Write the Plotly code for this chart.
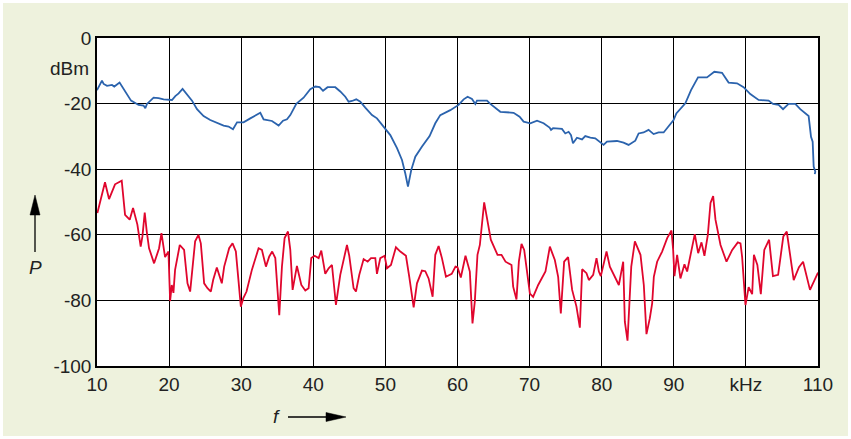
import plotly.graph_objects as go

# Blue curve (upper trace)
blue_f = [10.0, 10.69, 10.92, 11.39, 12.08, 12.40, 13.13, 13.93, 14.72, 15.77, 16.46, 16.70, 16.93,
          17.85, 18.54, 19.24, 20.40, 20.86, 21.32, 21.87, 22.48, 23.18, 23.87, 24.78, 25.71, 26.64,
          27.56, 28.25, 28.86, 29.42, 30.33, 31.26, 32.65, 33.11, 34.27, 35.19, 35.80, 36.35, 36.81,
          37.64, 38.65, 39.58, 40.28, 40.87, 41.35, 41.98, 43.05, 43.74, 44.44, 44.90, 45.37, 45.96,
          46.52, 47.21, 48.14, 48.83, 49.99, 50.68, 51.61, 52.30, 52.76, 53.13, 53.59, 54.15, 55.08,
          56.13, 56.92, 57.61, 59.00, 60.15, 60.85, 61.40, 62.01, 62.47, 62.70, 64.09, 64.55, 65.94,
          67.78, 68.61, 69.17, 70.10, 71.03, 71.94, 72.77, 72.97, 73.25, 74.49, 74.95, 75.41, 75.74,
          76.02, 76.57, 77.27, 77.72, 78.42, 79.11, 79.57, 80.26, 80.73, 82.12, 83.03, 83.73, 84.66,
          85.12, 85.81, 86.50, 87.20, 87.89, 88.59, 89.20, 89.97, 90.35, 91.60, 92.39, 93.36, 94.60,
          95.62, 96.69, 97.60, 98.77, 99.68, 100.61, 101.76, 103.15, 103.76, 104.54, 105.15, 105.92,
          106.85, 107.54, 108.70, 109.03, 109.26, 109.40, 109.63, 109.55]
blue_p = [-15.9, -13.0, -14.0, -14.6, -14.3, -14.8, -13.6, -16.4, -19.1, -20.4, -20.6, -21.4, -20.1,
          -18.2, -18.3, -18.7, -18.9, -17.7, -16.9, -15.5, -17.2, -19.1, -21.7, -23.8, -25.0, -25.8,
          -26.7, -27.0, -27.8, -25.7, -25.7, -24.5, -22.8, -24.8, -25.3, -26.7, -25.2, -24.8, -23.5,
          -20.1, -18.2, -15.6, -14.8, -15.0, -16.1, -15.0, -15.0, -16.3, -17.9, -19.4, -19.2, -18.7,
          -19.4, -21.2, -23.5, -24.5, -27.5, -29.6, -33.6, -37.2, -41.3, -45.3, -40.2, -36.2, -33.1,
          -29.9, -26.0, -23.5, -22.0, -20.4, -18.7, -17.9, -18.6, -20.1, -19.1, -19.1, -20.1, -22.5,
          -22.8, -24.0, -25.5, -26.0, -25.2, -26.0, -27.3, -28.0, -27.5, -27.7, -29.1, -28.6, -29.6,
          -32.1, -30.4, -30.9, -29.9, -30.4, -30.6, -31.3, -32.6, -31.6, -31.4, -31.9, -32.6, -31.3,
          -29.1, -28.8, -28.0, -29.3, -28.8, -28.8, -27.0, -25.0, -23.0, -19.9, -15.9, -12.0, -12.0,
          -10.3, -10.6, -13.6, -13.8, -15.0, -17.1, -18.9, -19.1, -20.1, -20.4, -21.7, -20.1,
          -20.1, -21.7, -23.8, -30.1, -31.6, -39.2, -40.8, -41.5]

# Red curve (lower trace)
red_f = [10.05, 10.37, 11.11, 11.67, 12.50, 13.43, 13.89, 14.54, 15.00, 15.60, 16.06, 16.30, 16.62,
         16.90, 17.22, 17.92, 18.61, 18.94, 19.44, 19.91, 20.14, 20.37, 20.60, 20.83, 21.48, 22.08,
         22.55, 22.92, 23.33, 23.61, 24.07, 24.40, 24.86, 25.32, 25.79, 26.11, 26.62, 27.31, 27.64,
         28.33, 28.80, 29.26, 29.95, 30.28, 30.74, 31.48, 32.41, 32.87, 33.43, 33.89, 34.30, 34.73,
         35.28, 35.65, 36.02, 36.49, 36.81, 37.13, 37.73, 38.34, 38.89, 39.35, 39.72, 40.18, 40.74,
         41.11, 41.66, 42.13, 42.59, 43.14, 43.74, 44.21, 44.67, 44.99, 45.59, 45.92, 46.38, 46.98,
         47.54, 48.00, 48.60, 48.83, 49.29, 49.89, 50.22, 50.77, 51.46, 52.07, 52.85, 53.31, 53.92,
         54.38, 55.07, 55.53, 55.99, 56.55, 56.92, 57.38, 57.84, 58.40, 59.20, 59.72, 60.00, 60.46,
         61.11, 61.71, 62.08, 62.40, 62.77, 63.10, 63.33, 63.70, 64.25, 64.62, 65.55, 66.10, 66.66,
         67.49, 67.72, 68.18, 68.51, 68.88, 69.25, 69.57, 70.04, 70.49, 71.19, 72.20, 72.81, 73.50,
         73.96, 74.33, 74.79, 75.34, 75.90, 76.50, 76.97, 77.29, 77.89, 78.22, 78.82, 79.28, 79.61,
         79.88, 80.67, 81.13, 82.38, 82.98, 83.21, 83.58, 84.10, 84.60, 85.38, 85.84, 86.21, 86.67,
         87.00, 87.23, 87.69, 88.38, 89.08, 89.68, 89.91, 90.09, 90.46, 90.92, 91.48, 91.85, 92.54,
         92.91, 93.38, 93.84, 94.25, 94.72, 95.09, 95.46, 95.78, 96.48, 97.31, 98.10, 98.88, 99.25,
         99.48, 99.94, 100.38, 100.87, 101.11, 101.59, 102.07, 102.55, 103.22, 103.75, 104.47,
         105.19, 105.67, 106.01, 106.63, 107.36, 107.93, 108.89, 110.0]
red_p = [-53.4, -50.3, -44.0, -49.1, -44.6, -43.5, -53.9, -55.4, -51.8, -56.9, -63.6, -60.5, -53.2,
         -59.0, -64.1, -68.7, -64.1, -59.5, -66.8, -65.1, -80.2, -75.3, -77.7, -70.7, -63.1, -64.6,
         -74.8, -77.3, -67.1, -62.0, -60.0, -62.6, -74.8, -76.3, -77.3, -73.8, -70.0, -74.8, -69.7,
         -64.1, -62.6, -65.1, -81.9, -79.4, -77.3, -70.7, -64.1, -64.6, -69.7, -66.6, -65.1, -67.1,
         -84.5, -69.7, -61.0, -59.0, -64.6, -76.8, -69.5, -75.3, -77.0, -76.3, -67.1, -66.4, -67.1,
         -64.8, -71.9, -70.2, -69.2, -81.4, -72.2, -67.9, -63.1, -66.4, -76.3, -77.3, -72.2, -67.4,
         -68.2, -67.1, -67.1, -71.9, -67.1, -66.4, -70.2, -69.2, -63.8, -65.1, -66.4, -72.8, -82.1,
         -74.8, -70.9, -71.1, -73.3, -78.9, -66.1, -63.4, -67.1, -72.8, -71.9, -69.7, -69.9, -73.0,
         -66.4, -71.2, -87.0, -80.4, -66.1, -63.1, -57.4, -50.1, -56.9, -61.5, -66.1, -66.1, -68.2,
         -69.2, -75.8, -79.7, -68.2, -62.8, -64.6, -69.7, -77.9, -78.9, -75.3, -71.2, -63.6, -67.7,
         -72.8, -84.0, -68.2, -66.8, -76.8, -81.9, -88.3, -70.5, -71.7, -73.8, -72.2, -67.1, -71.2,
         -72.6, -65.1, -69.7, -75.3, -68.2, -86.5, -92.3, -69.7, -62.0, -66.1, -75.3, -90.3, -85.5,
         -80.9, -72.8, -68.2, -65.1, -61.0, -58.7, -64.6, -72.6, -66.1, -73.3, -69.0, -71.2, -63.1,
         -59.8, -65.6, -62.3, -66.4, -60.0, -50.3, -48.2, -55.4, -63.1, -68.2, -64.6, -62.3, -62.6,
         -66.8, -81.4, -76.0, -78.1, -66.1, -69.2, -78.1, -64.6, -61.5, -72.6, -72.2,
         -60.5, -59.0, -64.1, -73.8, -69.9, -68.2, -76.8, -71.5]

x_tickvals = [10, 20, 30, 40, 50, 60, 70, 80, 90, 100, 110]
x_ticktext = ["10", "20", "30", "40", "50", "60", "70", "80", "90", "kHz", "110"]
y_tickvals = [0, -20, -40, -60, -80, -100]
y_ticktext = ["0", "-20", "-40", "-60", "-80", "-100"]

FONT = "Liberation Sans, Arial, Helvetica, sans-serif"
BG = "#eef2dd"
TXT = "#222222"

W, H = 851, 439
ML, MR, MT, MB = 97, 33, 38, 73
PW, PH = W - ML - MR, H - MT - MB


def px(x):  # page pixel -> paper x
    return (x - ML) / PW


def py(y):  # page pixel -> paper y
    return (H - MB - y) / PH


fig = go.Figure()
fig.add_trace(go.Scatter(x=blue_f, y=blue_p, mode="lines",
                         line=dict(color="#2b63ad", width=1.8), showlegend=False))
fig.add_trace(go.Scatter(x=red_f, y=red_p, mode="lines",
                         line=dict(color="#e0062d", width=1.8), showlegend=False))

arrow_style = dict(type="path", xref="paper", yref="paper",
                   xsizemode="pixel", ysizemode="pixel", layer="above")
shapes = [
    # white frame around the figure
    dict(type="rect", xref="paper", yref="paper", x0=px(0), x1=px(W), y0=py(H), y1=py(0),
         line=dict(color="white", width=6), fillcolor="rgba(0,0,0,0)", layer="above"),
    # P arrow (upwards)
    dict(**arrow_style, xanchor=px(35), yanchor=py(195), path="M0,0 L-5,-20 L5,-20 Z",
         fillcolor="black", line=dict(color="black", width=0.5)),
    dict(**arrow_style, xanchor=px(35), yanchor=py(195), path="M0,-18 L0,-57",
         line=dict(color="black", width=1.3)),
    # f arrow (rightwards)
    dict(**arrow_style, xanchor=px(346), yanchor=py(417), path="M0,0 L-20,4.5 L-20,-4.5 Z",
         fillcolor="black", line=dict(color="black", width=0.5)),
    dict(**arrow_style, xanchor=px(346), yanchor=py(417), path="M-18,0 L-58,0",
         line=dict(color="black", width=1.3)),
]

fig.update_layout(
    width=W, height=H,
    margin=dict(l=ML, r=MR, t=MT, b=MB),
    paper_bgcolor=BG, plot_bgcolor="white",
    font=dict(family=FONT, size=19, color=TXT),
    xaxis=dict(range=[10, 110], tickvals=x_tickvals, ticktext=x_ticktext,
               showgrid=True, gridcolor="black", gridwidth=1, zeroline=False,
               showline=True, linecolor="black", linewidth=1.5, mirror=True,
               ticks="", ticklabelstandoff=0, tickfont=dict(size=19, color=TXT)),
    yaxis=dict(range=[-100, 0], tickvals=y_tickvals, ticktext=y_ticktext,
               showgrid=True, gridcolor="black", gridwidth=1, zeroline=False,
               showline=True, linecolor="black", linewidth=1.5, mirror=True,
               ticks="", ticklabelstandoff=0, tickfont=dict(size=19, color=TXT)),
    shapes=shapes,
    annotations=[
        dict(text="dBm", xref="paper", yref="y", x=0, y=-9.3, xanchor="right",
             yanchor="middle", xshift=-6, showarrow=False,
             font=dict(size=19, color=TXT, family=FONT)),
        dict(text="<i>P</i>", xref="paper", yref="paper", x=px(35), y=py(267),
             xanchor="center", yanchor="middle", showarrow=False,
             font=dict(size=19, color=TXT, family=FONT)),
        dict(text="<i>f</i>", xref="paper", yref="paper", x=px(276), y=py(416),
             xanchor="center", yanchor="middle", showarrow=False,
             font=dict(size=19, color=TXT, family=FONT)),
    ],
)

fig.write_html("out.html", config={"displayModeBar": False},
               post_script="document.body.style.margin='0';document.body.style.overflow='hidden';")
